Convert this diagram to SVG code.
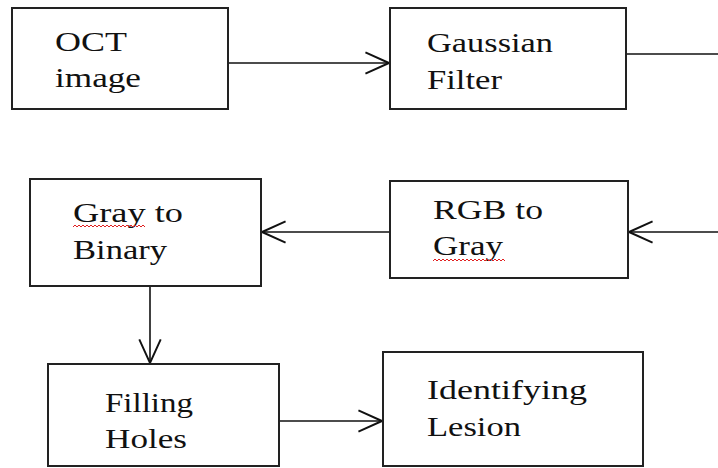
<svg xmlns="http://www.w3.org/2000/svg" width="718" height="468" viewBox="0 0 718 468">
<style>
.box{fill:#fff;stroke:#222;stroke-width:2}
text{font-family:'Liberation Serif','Times New Roman',serif;font-size:27px;fill:#111}
.conn{stroke:#111;stroke-width:1.6;fill:none}
.sq{stroke:#e02020;stroke-width:1;fill:none}
</style>
<defs>
<marker id="arr" markerUnits="userSpaceOnUse" markerWidth="30" markerHeight="30" viewBox="-26 -13 28 26" refX="0" refY="0" orient="auto">
<path d="M-22,-10 L0,0 L-22,10" fill="none" stroke="#111" stroke-width="1.8"/>
</marker>
</defs>
<rect width="718" height="468" fill="#fff"/>
<g id="connectors">
<line class="conn" x1="228" y1="63" x2="389" y2="63" marker-end="url(#arr)"/>
<line class="conn" x1="618" y1="54" x2="718" y2="54"/>
<line class="conn" x1="718" y1="232" x2="629" y2="232" marker-end="url(#arr)"/>
<line class="conn" x1="390" y1="232" x2="262" y2="232" marker-end="url(#arr)"/>
<line class="conn" x1="150" y1="286" x2="150" y2="363" marker-end="url(#arr)"/>
<line class="conn" x1="277" y1="421" x2="382" y2="421" marker-end="url(#arr)"/>
</g>
<g id="oct">
<rect class="box" x="12" y="8" width="216" height="101"/>
<text x="55" y="51" textLength="72" lengthAdjust="spacingAndGlyphs">OCT</text>
<text x="55" y="87" textLength="86" lengthAdjust="spacingAndGlyphs">image</text>
</g>
<g id="gaussian">
<rect class="box" x="390" y="8" width="236" height="101"/>
<text x="427" y="52" textLength="126" lengthAdjust="spacingAndGlyphs">Gaussian</text>
<text x="427" y="89" textLength="75" lengthAdjust="spacingAndGlyphs">Filter</text>
</g>
<g id="rgb">
<rect class="box" x="390" y="181" width="238" height="97"/>
<text x="433" y="219" textLength="110" lengthAdjust="spacingAndGlyphs">RGB to</text>
<text x="433" y="255" textLength="70" lengthAdjust="spacingAndGlyphs">Gray</text>
<path class="sq" d="M433,261 l2,-2 l2,2 l2,-2 l2,2 l2,-2 l2,2 l2,-2 l2,2 l2,-2 l2,2 l2,-2 l2,2 l2,-2 l2,2 l2,-2 l2,2 l2,-2 l2,2 l2,-2 l2,2 l2,-2 l2,2 l2,-2 l2,2 l2,-2 l2,2 l2,-2 l2,2 l2,-2 l2,2 l2,-2 l2,2 l2,-2 l2,2 l2,-2 l2,2"/>
</g>
<g id="graybin">
<rect class="box" x="30" y="179" width="231" height="107"/>
<text x="73" y="222" textLength="110" lengthAdjust="spacingAndGlyphs">Gray to</text>
<text x="73" y="259" textLength="94" lengthAdjust="spacingAndGlyphs">Binary</text>
<path class="sq" d="M73,227 l2,-2 l2,2 l2,-2 l2,2 l2,-2 l2,2 l2,-2 l2,2 l2,-2 l2,2 l2,-2 l2,2 l2,-2 l2,2 l2,-2 l2,2 l2,-2 l2,2 l2,-2 l2,2 l2,-2 l2,2 l2,-2 l2,2 l2,-2 l2,2 l2,-2 l2,2 l2,-2 l2,2 l2,-2 l2,2 l2,-2 l2,2 l2,-2 l2,2"/>
</g>
<g id="filling">
<rect class="box" x="48" y="364" width="231" height="102"/>
<text x="105" y="412" textLength="88" lengthAdjust="spacingAndGlyphs">Filling</text>
<text x="105" y="448" textLength="82" lengthAdjust="spacingAndGlyphs">Holes</text>
</g>
<g id="lesion">
<rect class="box" x="383" y="352" width="260" height="114"/>
<text x="427" y="399" textLength="160" lengthAdjust="spacingAndGlyphs">Identifying</text>
<text x="427" y="436" textLength="94" lengthAdjust="spacingAndGlyphs">Lesion</text>
</g>
</svg>
